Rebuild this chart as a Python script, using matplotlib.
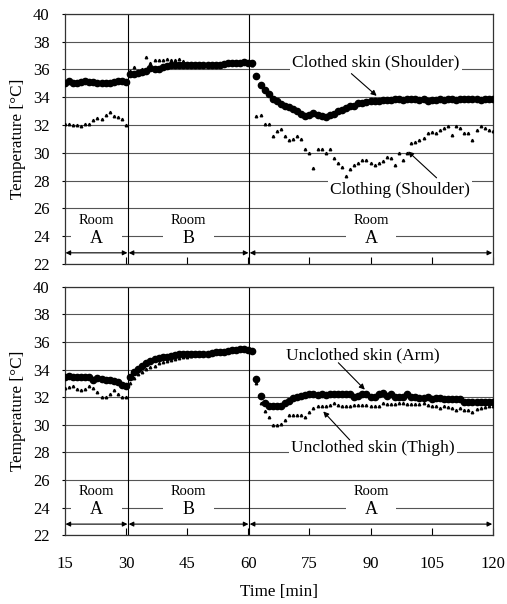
"""Skin and clothing temperature during room transitions (two stacked panels)."""
import matplotlib

matplotlib.use("Agg")
import matplotlib.pyplot as plt  # noqa: E402
from matplotlib.patches import Rectangle  # noqa: E402

plt.rcParams["font.family"] = ["Liberation Serif", "DejaVu Serif"]
plt.rcParams["mathtext.fontset"] = "stix"

# sampling times (one reading per minute) for the three room periods
T_ROOM_A1 = list(range(15, 31))
T_ROOM_B = list(range(31, 61))
T_ROOM_A2 = list(range(61, 121))

# top panel: clothed skin (shoulder), big dots
shoulder_skin_a1 = [35.0, 35.2, 35.0, 35.05, 35.1, 35.2, 35.1, 35.1, 35.05, 35.05,
                    35.0, 35.05, 35.1, 35.2, 35.2, 35.1]
shoulder_skin_b = [35.7, 35.7, 35.75, 35.8, 35.9, 36.1, 36.05, 36.0, 36.2, 36.25,
                   36.3, 36.3, 36.35, 36.35, 36.35, 36.35, 36.35, 36.3, 36.35, 36.35,
                   36.3, 36.3, 36.35, 36.4, 36.45, 36.45, 36.5, 36.5, 36.55, 36.5]
shoulder_skin_a2 = [36.5, 35.5, 34.85, 34.5, 34.2, 33.9, 33.7, 33.5, 33.4, 33.3,
                    33.15, 33.0, 32.8, 32.65, 32.7, 32.85, 32.75, 32.65, 32.55, 32.75,
                    32.8, 33.0, 33.1, 33.2, 33.35, 33.4, 33.55, 33.6, 33.65, 33.7,
                    33.75, 33.75, 33.8, 33.8, 33.8, 33.85, 33.85, 33.8, 33.85, 33.9,
                    33.85, 33.8, 33.85, 33.75, 33.8, 33.8, 33.85, 33.8, 33.85, 33.85,
                    33.8, 33.85, 33.85, 33.9, 33.85, 33.85, 33.8, 33.85, 33.9, 33.85]

# top panel: clothing (shoulder), small dots
clothing_a1 = [32.1, 32.1, 32.0, 32.0, 31.9, 32.1, 32.1, 32.35, 32.5, 32.4,
               32.7, 32.95, 32.65, 32.6, 32.4, 32.0]
clothing_b = [35.9, 36.2, 35.9, 36.0, 36.9, 36.5, 36.7, 36.65, 36.7, 36.75,
              36.7, 36.7, 36.75, 36.6, 36.5, 36.45, 36.4, 36.4, 36.4, 36.4,
              36.35, 36.35, 36.35, 36.4, 36.4, 36.45, 36.45, 36.5, 36.5, 36.5]
clothing_a2 = [36.3, 32.66, 32.7, 32.1, 32.1, 31.2, 31.6, 31.7, 31.2, 30.9,
               31.0, 31.2, 31.0, 30.3, 30.0, 28.9, 30.3, 30.3, 30.0, 30.3,
               29.6, 29.25, 29.0, 28.3, 28.8, 29.1, 29.25, 29.5, 29.5, 29.25,
               29.1, 29.25, 29.4, 29.7, 29.6, 29.1, 30.0, 29.5, 30.0, 30.7,
               30.8, 30.9, 31.05, 31.4, 31.5, 31.4, 31.65, 31.8, 31.9, 31.3,
               31.9, 31.8, 31.4, 31.4, 30.9, 31.65, 31.95, 31.8, 31.65, 31.6]

# bottom panel: unclothed skin (arm), big dots
arm_a1 = [33.45, 33.55, 33.5, 33.5, 33.45, 33.45, 33.45, 33.27, 33.4, 33.32,
          33.27, 33.22, 33.2, 33.07, 32.9, 32.85]
arm_b = [33.45, 33.8, 34.05, 34.3, 34.5, 34.6, 34.75, 34.85, 34.9, 34.95,
         35.0, 35.05, 35.1, 35.1, 35.15, 35.15, 35.15, 35.15, 35.15, 35.15,
         35.2, 35.25, 35.3, 35.3, 35.35, 35.4, 35.45, 35.5, 35.5, 35.4]
arm_a2 = [35.35, 33.3, 32.1, 31.6, 31.35, 31.35, 31.35, 31.4, 31.55, 31.75,
          31.95, 32.05, 32.1, 32.15, 32.2, 32.2, 32.15, 32.2, 32.15, 32.2,
          32.2, 32.2, 32.25, 32.2, 32.2, 32.0, 32.1, 32.2, 32.2, 32.05,
          32.05, 32.2, 32.3, 32.1, 32.2, 32.0, 32.05, 32.05, 32.2, 32.05,
          32.0, 31.95, 31.95, 32.05, 31.9, 31.95, 31.95, 31.9, 31.9, 31.85,
          31.85, 31.85, 31.65, 31.65, 31.65, 31.65, 31.65, 31.65, 31.65, 31.65]

# bottom panel: unclothed skin (thigh), small dots
thigh_a1 = [32.7, 32.75, 32.8, 32.6, 32.5, 32.6, 32.85, 32.65, 32.35, 32.0,
            32.05, 32.2, 32.55, 32.2, 32.0, 32.0]
thigh_b = [33.05, 33.4, 33.65, 33.85, 34.05, 34.2, 34.3, 34.45, 34.55, 34.6,
           34.7, 34.8, 34.85, 34.9, 34.95, 35.0, 35.05, 35.1, 35.1, 35.1,
           35.15, 35.2, 35.25, 35.3, 35.35, 35.4, 35.45, 35.5, 35.5, 35.45]
thigh_a2 = [35.3, 33.0, 31.6, 31.0, 30.55, 30.0, 30.0, 30.05, 30.35, 30.7,
            30.7, 30.7, 30.7, 30.6, 30.95, 31.2, 31.35, 31.4, 31.4, 31.45,
            31.55, 31.45, 31.35, 31.35, 31.4, 31.45, 31.45, 31.45, 31.45, 31.4,
            31.4, 31.4, 31.55, 31.5, 31.5, 31.5, 31.55, 31.55, 31.5, 31.5,
            31.5, 31.5, 31.55, 31.45, 31.4, 31.35, 31.2, 31.35, 31.3, 31.2,
            31.1, 31.2, 31.1, 31.05, 30.95, 31.15, 31.2, 31.3, 31.35, 31.35]

ROOM_SWITCHES = [30.5, 60.2]
ROOM_SPANS = [(15, 30.5, "A"), (30.5, 60.2, "B"), (60.2, 120, "A")]
Y_TICKS = list(range(22, 41, 2))
X_TICKS = list(range(15, 121, 15))


def _panel(ax, big, small, notes):
    ax.set_xlim(15, 120)
    ax.set_ylim(22, 40)
    ax.set_yticks(Y_TICKS)
    ax.set_xticks(X_TICKS)
    ax.grid(axis="y", color="#555555", lw=0.8, zorder=0)
    ax.set_axisbelow(True)
    ax.tick_params(axis="y", direction="out", length=2, pad=9, labelsize=12)
    ax.tick_params(axis="x", direction="in", length=5, pad=15, labelsize=12)
    for sp in ax.spines.values():
        sp.set_color("#333333")
        sp.set_linewidth(0.9)
    for xv in ROOM_SWITCHES:
        ax.axvline(xv, color="black", lw=0.8, zorder=1)

    times = [T_ROOM_A1, T_ROOM_B, T_ROOM_A2]
    for t, vals in zip(times, small):
        ax.plot(t, vals, ls="none", marker="^", ms=1.8, color="black", zorder=3)
    for t, vals in zip(times, big):
        ax.plot(t, vals, ls="none", marker="o", ms=4.5, color="black", zorder=4)

    # room labels with double arrows along the bottom
    for x0, x1, name in ROOM_SPANS:
        xc = (x0 + x1) / 2
        ax.add_patch(Rectangle((xc - 6.2, 23.35), 12.4, 1.2, facecolor="white",
                               edgecolor="none", zorder=2))
        ax.text(xc, 25.15, "Room", ha="center", va="center", fontsize=10.5, zorder=5)
        ax.text(xc, 23.85, name, ha="center", va="center", fontsize=13, zorder=5)
        ax.annotate("", xy=(x0 + 0.15, 22.8), xytext=(x1 - 0.15, 22.8),
                    arrowprops=dict(arrowstyle="<|-|>", color="black", lw=0.8,
                                    mutation_scale=7, shrinkA=0, shrinkB=0),
                    zorder=5)

    for text, xy, xytext, tail in notes:
        ax.text(xytext[0], xytext[1], text, ha="center", va="center", fontsize=12.5,
                zorder=6, bbox=dict(facecolor="white", edgecolor="none", pad=1.5))
        ax.annotate("", xy=xy, xytext=tail,
                    arrowprops=dict(arrowstyle="-|>", color="black", lw=0.8,
                                    mutation_scale=8, shrinkA=0, shrinkB=0),
                    zorder=6)
    ax.set_ylabel("Temperature [°C]", fontsize=12.3, labelpad=5)


fig = plt.figure(figsize=(5.07, 6.04), dpi=100)
ax_top = fig.add_axes([0.128, 0.563, 0.844, 0.414])
ax_bot = fig.add_axes([0.128, 0.114, 0.844, 0.411])

_panel(
    ax_top,
    [shoulder_skin_a1, shoulder_skin_b, shoulder_skin_a2],
    [clothing_a1, clothing_b, clothing_a2],
    [
        ("Clothed skin (Shoulder)", (91.5, 34.1), (91.3, 36.5), (85.3, 35.7)),
        ("Clothing (Shoulder)", (99.2, 30.1), (97.2, 27.3), (106.2, 28.2)),
    ],
)
ax_top.tick_params(axis="x", labelbottom=False)

_panel(
    ax_bot,
    [arm_a1, arm_b, arm_a2],
    [thigh_a1, thigh_b, thigh_a2],
    [
        ("Unclothed skin (Arm)", (88.6, 32.55), (88.2, 35.0), (82.1, 34.5)),
        ("Unclothed skin (Thigh)", (78.4, 30.97), (90.6, 28.3), (84.9, 28.9)),
    ],
)
ax_bot.set_xlabel("Time [min]", fontsize=12.3, labelpad=9)

fig.savefig("out.png", dpi=100)
